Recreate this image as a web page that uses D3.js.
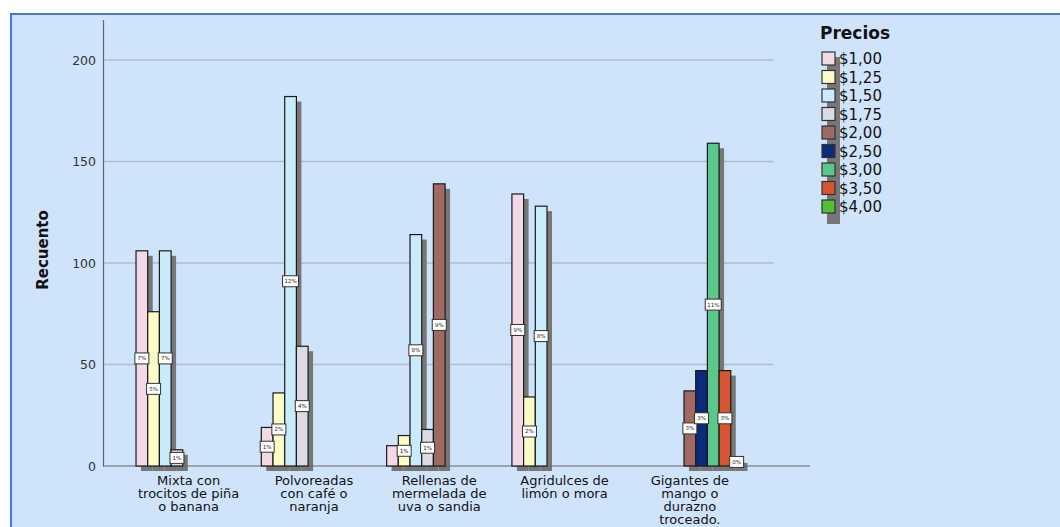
<!DOCTYPE html>
<html>
<head>
<meta charset="utf-8">
<script src="https://cdn.jsdelivr.net/npm/d3@7"></script>
<style>
  html, body { margin: 0; padding: 0; background: #ffffff; }
  svg { display: block; }
</style>
</head>
<body>
<svg id="chart" width="1060" height="527"></svg>
<script>
// ---- data ----
const categories = ["Mixta", "Polvoreadas", "Rellenas", "Agridulces", "Gigantes"];
const categoryLabels = [
  ["Mixta con", "trocitos de piña", "o banana"],
  ["Polvoreadas", "con café o", "naranja"],
  ["Rellenas de", "mermelada de", "uva o sandia"],
  ["Agridulces de", "limón o mora"],
  ["Gigantes de", "mango o", "durazno", "troceado."]
];
const prices = ["$1,00", "$1,25", "$1,50", "$1,75", "$2,00", "$2,50", "$3,00", "$3,50", "$4,00"];
const priceColors = ["#f1d9e5", "#fdfbc6", "#c9ecfd", "#dadbe3", "#9f6a62", "#0b2a7a", "#5ac88b", "#d75533", "#53bf35"];

// counts per price, one value per category (null = no bar)
const v100 = [106, 19, 10, 134, null];
const v125 = [76, 36, 15, 34, null];
const v150 = [106, 182, 114, 128, null];
const v175 = [8, 59, 18, null, null];
const v200 = [null, null, 139, null, 37];
const v250 = [null, null, null, null, 47];
const v300 = [null, null, null, null, 159];
const v350 = [null, null, null, null, 47];
const v400 = [null, null, null, null, 4];

// percentage labels per price
const p100 = ["7%", "1%", "", "9%", null];
const p125 = ["5%", "2%", "1%", "2%", null];
const p150 = ["7%", "12%", "8%", "8%", null];
const p175 = ["1%", "4%", "1%", null, null];
const p200 = [null, null, "9%", null, "3%"];
const p250 = [null, null, null, null, "3%"];
const p300 = [null, null, null, null, "11%"];
const p350 = [null, null, null, null, "3%"];
const p400 = [null, null, null, null, "0%"];

const yTicks = [0, 50, 100, 150, 200];

const seriesValues = [v100, v125, v150, v175, v200, v250, v300, v350, v400];
const seriesPct = [p100, p125, p150, p175, p200, p250, p300, p350, p400];

// ---- build ----
const svg = d3.select("#chart");
const FONT = "'DejaVu Sans', Verdana, sans-serif";

// frame
svg.append("rect").attr("x", 11).attr("y", 14).attr("width", 1060).attr("height", 530)
  .attr("fill", "#cfe4fb").attr("stroke", "#4a78cc").attr("stroke-width", 2);

const axisX0 = 103, axisX1 = 810, gridX1 = 774;
const y = d3.scaleLinear().domain([0, 220]).range([466, 19.4]);
const x0 = d3.scaleBand().domain(categories).range([126, 752.5]).paddingInner(0.16).paddingOuter(0.08);
const x1 = d3.scaleBand().domain(prices).range([0, x0.bandwidth()]).padding(0);

// gridlines
svg.append("g").selectAll("line").data(yTicks.filter(d => d > 0)).join("line")
  .attr("x1", axisX0).attr("x2", gridX1)
  .attr("y1", d => y(d)).attr("y2", d => y(d))
  .attr("stroke", "#b5bcc6").attr("stroke-width", 1.5);

// y axis
const yAxis = d3.axisLeft(y).tickValues(yTicks).tickSize(0).tickPadding(7);
const gy = svg.append("g").attr("transform", `translate(${axisX0},0)`).call(yAxis);
gy.select(".domain").attr("stroke", "#666").attr("stroke-width", 1.2);
gy.selectAll("text").attr("font-family", FONT).attr("font-size", 12.5).attr("fill", "#333");

// flatten bars
const bars = [];
seriesValues.forEach((arr, si) => {
  arr.forEach((v, ci) => {
    if (v != null) bars.push({ cat: categories[ci], price: prices[si], si, v, pct: seriesPct[si][ci] });
  });
});

const bw = x1.bandwidth();
// shadows
svg.append("g").selectAll("rect").data(bars).join("rect")
  .attr("x", d => x0(d.cat) + x1(d.price) + 5)
  .attr("y", d => y(d.v) + 5)
  .attr("width", bw)
  .attr("height", d => y(0) - y(d.v))
  .attr("fill", "#777777");

// x axis line
svg.append("line").attr("x1", axisX0).attr("x2", axisX1).attr("y1", y(0)).attr("y2", y(0))
  .attr("stroke", "#666").attr("stroke-width", 1.2);

// bars
svg.append("g").selectAll("rect").data(bars).join("rect")
  .attr("x", d => x0(d.cat) + x1(d.price))
  .attr("y", d => y(d.v))
  .attr("width", bw)
  .attr("height", d => y(0) - y(d.v))
  .attr("fill", d => priceColors[d.si])
  .attr("stroke", "#1a1a1a").attr("stroke-width", 1.2);

// value labels
const lab = svg.append("g").selectAll("g").data(bars.filter(d => d.pct)).join("g")
  .attr("transform", d => `translate(${x0(d.cat) + x1(d.price) + bw / 2},${(y(d.v) + y(0)) / 2})`);
lab.append("rect").attr("x", d => d.pct.length > 2 ? -8 : -7).attr("y", -5.5)
  .attr("width", d => d.pct.length > 2 ? 16 : 14).attr("height", 11)
  .attr("fill", "#ffffff").attr("stroke", "#333").attr("stroke-width", 1);
lab.append("text").attr("text-anchor", "middle").attr("dy", "0.35em")
  .attr("font-family", FONT).attr("font-size", 5.5).attr("fill", "#222")
  .text(d => d.pct);

// x category labels
const xl = svg.append("g").selectAll("text").data(categories).join("text")
  .attr("x", d => x0(d) + x0.bandwidth() / 2)
  .attr("y", 485)
  .attr("text-anchor", "middle")
  .attr("font-family", FONT).attr("font-size", 13).attr("fill", "#111");
xl.each(function (d, i) {
  const t = d3.select(this);
  categoryLabels[i].forEach((line, k) => {
    t.append("tspan").attr("x", x0(d) + x0.bandwidth() / 2).attr("dy", k === 0 ? 0 : 13).text(line);
  });
});

// y axis title
svg.append("text").attr("transform", "translate(48,250) rotate(-90)")
  .attr("text-anchor", "middle").attr("font-family", FONT).attr("font-weight", "bold")
  .attr("font-size", 15).attr("fill", "#111").text("Recuento");

// legend
svg.append("text").attr("x", 820).attr("y", 39).attr("font-family", FONT)
  .attr("font-weight", "bold").attr("font-size", 17).attr("fill", "#111").text("Precios");
const lg = svg.append("g").selectAll("g").data(prices).join("g")
  .attr("transform", (d, i) => `translate(822,${52 + i * 18.5})`);
lg.append("rect").attr("x", 5).attr("y", 5).attr("width", 13).attr("height", 19).attr("fill", "#777");
lg.append("rect").attr("width", 13).attr("height", 13)
  .attr("fill", (d, i) => priceColors[i]).attr("stroke", "#333").attr("stroke-width", 1.2);
lg.append("text").attr("x", 17).attr("y", 7).attr("dy", "0.35em")
  .attr("font-family", FONT).attr("font-size", 15).attr("fill", "#111").text(d => d);
</script>
</body>
</html>
